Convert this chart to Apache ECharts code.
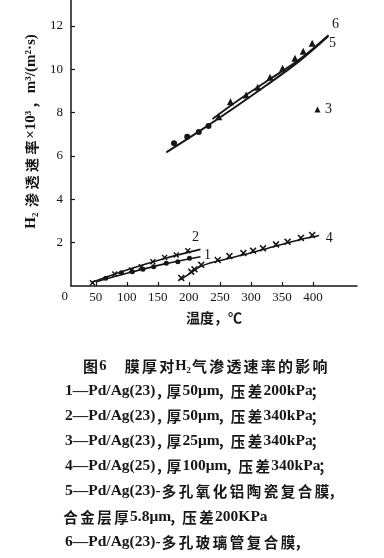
<!DOCTYPE html>
<html><head><meta charset="utf-8">
<script src="https://cdn.jsdelivr.net/npm/echarts@6/dist/echarts.min.js"></script>
<style>html,body{margin:0;padding:0;background:#fff}#c{width:384px;height:558px}</style>
</head><body><div id="c"></div>
<script>
// ---- data ----
const xTickLabels = [50, 100, 150, 200, 250, 300, 350, 400];
const yTickLabels = [2, 4, 6, 8, 10, 12];

// curve 1: Pd/Ag(23), 50um, 200kPa
const s1LineX = [51, 104.6, 160.9, 218.7];
const s1LineY = [0.20, 0.62, 1.02, 1.35];
const s1PtsX = [66, 91.2, 108.9, 126, 143.2, 163.6, 182.2, 201];
const s1PtsY = [0.36, 0.61, 0.66, 0.77, 0.89, 1.05, 1.12, 1.28];
// curve 2: Pd/Ag(23), 50um, 340kPa
const s2LineX = [43, 104.6, 160.9, 218.7];
const s2LineY = [0.16, 0.78, 1.27, 1.69];
const s2PtsX = [44.6, 80.5, 107.3, 123.4, 142, 160.9, 179.7, 198.3];
const s2PtsY = [0.15, 0.55, 0.74, 0.89, 1.12, 1.32, 1.43, 1.63];
// point 3: Pd/Ag(23), 25um, 340kPa
const s3PtsX = [407.3];
const s3PtsY = [8.15];
// curve 4: Pd/Ag(25), 100um, 340kPa
const s4LineX = [186, 204, 220, 246.5, 289.5, 340.4, 380.6, 410];
const s4LineY = [0.28, 0.62, 0.92, 1.15, 1.45, 1.85, 2.15, 2.33];
const s4PtsX = [187.7, 203.8, 209.1, 219.9, 246.5, 265.4, 287.9, 303.5, 319.5, 340.4, 359.1, 380.6, 398.8];
const s4PtsY = [0.37, 0.66, 0.77, 0.98, 1.20, 1.38, 1.52, 1.63, 1.74, 1.92, 2.04, 2.22, 2.35];
// curve 5: Pd/Ag(23)-porous alumina composite
const s5LineX = [163.6, 217.1, 270.2, 323.2, 377.9, 425];
const s5LineY = [6.17, 7.15, 8.17, 9.23, 10.38, 11.54];
const s5PtsX = [176.1, 197.3, 216, 231.6];
const s5PtsY = [6.59, 6.89, 7.11, 7.38];
// curve 6: Pd/Ag(23)-porous glass tube composite
const s6LineX = [238, 281.4, 329.7, 377.9, 425];
const s6LineY = [7.71, 8.61, 9.53, 10.45, 11.58];
const s6PtsX = [248.2, 267, 292.2, 310.9, 330.8, 351, 371, 384.3, 398.8];
const s6PtsY = [7.81, 8.50, 8.81, 9.17, 9.63, 10.05, 10.51, 10.84, 11.20];

const curveNames = ['1', '2', '3', '4', '5', '6'];
const xTitle = '温度，℃';
const yTitle = 'H₂ 渗透速率×10³，m³/(m²·s)';
const captionTitle = '图6　膜厚对H₂气渗透速率的影响';
const captionLines = [
  '1—Pd/Ag(23)，厚50μm，压差200kPa；',
  '2—Pd/Ag(23)，厚50μm，压差340kPa；',
  '3—Pd/Ag(23)，厚25μm，压差340kPa；',
  '4—Pd/Ag(25)，厚100μm，压差340kPa；',
  '5—Pd/Ag(23)-多孔氧化铝陶瓷复合膜，',
  '合金层厚5.8μm，压差200KPa',
  '6—Pd/Ag(23)-多孔玻璃管复合膜，'
];

// ---- chart ----
const zip = (xs, ys) => xs.map((x, i) => [x, ys[i]]);
const INK = '#161616';
const SERIF = '"Liberation Serif","DejaVu Serif","Noto Sans CJK SC"';
const CJK = '"Noto Sans CJK SC"';
const CROSS = 'path://M0,1.6L1.6,0L5,3.4L8.4,0L10,1.6L6.6,5L10,8.4L8.4,10L5,6.6L1.6,10L0,8.4L3.4,5Z';

// split text into rich-text tokens: each CJK char in its own fixed-width box (typeset spacing)
const isPunct = ch => /[\u3000-\u303f\uff00-\uffef]/.test(ch) && ch !== '\u3000';
const isCJK = ch => /[\u3000-\u303f\u4e00-\u9fff\uff00-\uffef]/.test(ch);
function richify(s) {
  let out = '', run = '';
  for (const ch of s) {
    if (isCJK(ch)) {
      if (run) { out += '{l|' + run + '}'; run = ''; }
      out += (isPunct(ch) ? '{p|' : '{c|') + ch + '}';
    } else run += ch;
  }
  if (run) out += '{l|' + run + '}';
  return out;
}
function richStyles(cjkSize, cjkWidth, latSize, punctWidth) {
  return {
    c: {fontFamily: CJK, fontWeight: 'bold', fontSize: cjkSize, width: cjkWidth, align: 'center', verticalAlign: 'middle', color: INK},
    p: {fontFamily: CJK, fontWeight: 'bold', fontSize: cjkSize, width: punctWidth, align: 'left', verticalAlign: 'middle', color: INK},
    l: {fontFamily: SERIF, fontWeight: 'bold', fontSize: latSize, verticalAlign: 'middle', color: INK}
  };
}

const chart = echarts.init(document.getElementById('c'), null, {renderer: 'canvas'});

function lineSeries(name, xs, ys, w) {
  return {name, type: 'line', data: zip(xs, ys), smooth: 0.35, showSymbol: false, symbol: 'none',
    lineStyle: {color: INK, width: w}, silent: true, z: 2};
}
function markSeries(name, xs, ys, symbol, size) {
  return {name, type: 'scatter', data: zip(xs, ys), symbol, symbolSize: size,
    itemStyle: {color: INK, opacity: 1}, silent: true, z: 3};
}

const option = {
  animation: false,
  backgroundColor: '#fff',
  grid: {left: 71, right: 27, top: 0, bottom: 272, containLabel: false, outerBoundsMode: 'none'},
  xAxis: {
    type: 'value', min: 10, max: 471,
    name: xTitle, nameLocation: 'middle', nameGap: 25,
    nameTextStyle: {fontFamily: CJK, fontWeight: 'bold', fontSize: 14, color: INK},
    axisLine: {show: true, lineStyle: {color: INK, width: 1.5}},
    axisTick: {show: true, inside: true, length: 4, customValues: xTickLabels, lineStyle: {color: INK, width: 1.2}},
    axisLabel: {customValues: xTickLabels, margin: 5, fontFamily: SERIF, fontSize: 13, color: INK},
    splitLine: {show: false}
  },
  yAxis: {
    type: 'value', min: 0, max: 13.2,
    name: richify(yTitle), nameLocation: 'middle', nameGap: 30, nameRotate: 90,
    nameTextStyle: {color: INK, padding: [0, 0, 0, 23], rich: richStyles(14, 17.5, 15, 17.5)},
    axisLine: {show: true, lineStyle: {color: INK, width: 1.5}},
    axisTick: {show: true, inside: true, length: 4, customValues: yTickLabels, lineStyle: {color: INK, width: 1.2}},
    axisLabel: {customValues: yTickLabels, margin: 8, fontFamily: SERIF, fontSize: 13, color: INK},
    splitLine: {show: false}
  },
  series: [
    lineSeries('1', s1LineX, s1LineY, 1.6),
    markSeries('1', s1PtsX, s1PtsY, 'circle', 5),
    lineSeries('2', s2LineX, s2LineY, 1.6),
    markSeries('2', s2PtsX, s2PtsY, CROSS, 6),
    markSeries('3', s3PtsX, s3PtsY, 'triangle', 6),
    lineSeries('4', s4LineX, s4LineY, 1.6),
    markSeries('4', s4PtsX, s4PtsY, CROSS, 7),
    lineSeries('5', s5LineX, s5LineY, 2),
    markSeries('5', s5PtsX, s5PtsY, 'circle', 6),
    lineSeries('6', s6LineX, s6LineY, 1.8),
    markSeries('6', s6PtsX, s6PtsY, 'triangle', 7)
  ]
};
chart.setOption(option);

// ---- annotations anchored to the data through the axes ----
const px = p => chart.convertToPixel({gridIndex: 0}, p);
const last = (xs, ys) => [xs[xs.length - 1], ys[ys.length - 1]];
const anchors = [
  [last(s1LineX, s1LineY), [7, -1]],
  [last(s2LineX, s2LineY), [-5, -12]],
  [last(s3PtsX, s3PtsY), [11, 0]],
  [last(s4LineX, s4LineY), [10, 3]],
  [last(s5LineX, s5LineY), [4, 7]],
  [last(s6LineX, s6LineY), [7, -11]]
];
const graphics = anchors.map((a, i) => {
  const p = px(a[0]);
  return {type: 'text', x: p[0] + a[1][0], y: p[1] + a[1][1], silent: true,
    style: {text: curveNames[i], fontFamily: SERIF, fontSize: 14, fill: INK, align: 'center', verticalAlign: 'middle'}};
});
const o = px([0, 0]);
graphics.push({type: 'text', x: o[0], y: o[1] + 11, silent: true,
  style: {text: '0', fontFamily: SERIF, fontSize: 13, fill: INK, align: 'center', verticalAlign: 'middle'}});

graphics.push({type: 'text', x: 82, y: 366, silent: true,
  style: {text: richify(captionTitle), rich: richStyles(15, 17.2, 14.5, 17.2), fill: INK, align: 'left', verticalAlign: 'middle'}});
const capY = [391, 416, 441, 466, 491, 517, 542];
const capX = [65, 65, 65, 65, 65, 62, 65];
captionLines.forEach((t, i) => {
  graphics.push({type: 'text', x: capX[i], y: capY[i], silent: true,
    style: {text: richify(t), rich: richStyles(14.5, 17, 15.5, 10), fill: INK, align: 'left', verticalAlign: 'middle'}});
});
chart.setOption({graphic: graphics});
</script></body></html>
